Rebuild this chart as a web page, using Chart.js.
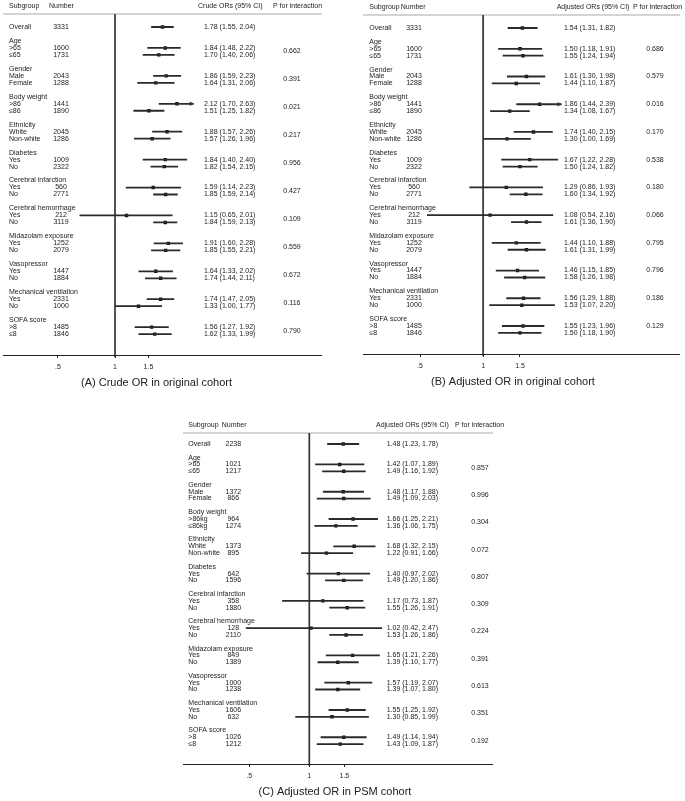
<!DOCTYPE html>
<html>
<head>
<meta charset="utf-8">
<script src="https://cdn.jsdelivr.net/npm/chart.js@4.4.1/dist/chart.umd.min.js"></script>
<style>
body { margin: 0; background: #fff; }
#wrap { position: relative; width: 685px; height: 801px; }
canvas { position: absolute; }
</style>
</head>
<body>
<div id="wrap">
  <canvas id="crude" width="340" height="400" style="left:0;top:0"></canvas>
  <canvas id="adj" width="345" height="400" style="left:340px;top:0"></canvas>
  <canvas id="psm" width="370" height="401" style="left:160px;top:400px"></canvas>
</div>
<script>
// subgroups
const groups = ['Age', 'Gender', 'Body weight', 'Ethnicity', 'Diabetes', 'Cerebral infarction',
  'Cerebral hemorrhage', 'Midazolam exposure', 'Vasopressor', 'Mechanical ventilation', 'SOFA score']
const levelsOrig = [['>65', '≤65'], ['Male', 'Female'], ['>86', '≤86'], ['White', 'Non-white'],
  ['Yes', 'No'], ['Yes', 'No'], ['Yes', 'No'], ['Yes', 'No'], ['Yes', 'No'], ['Yes', 'No'], ['>8', '≤8']]
const levelsPsm = [['>65', '≤65'], ['Male', 'Female'], ['>86kg', '≤86kg'], ['White', 'Non-white'],
  ['Yes', 'No'], ['Yes', 'No'], ['Yes', 'No'], ['Yes', 'No'], ['Yes', 'No'], ['Yes', 'No'], ['>8', '≤8']]

// rows: overall first, then two levels per subgroup
const nOrig = [3331, 1600, 1731, 2043, 1288, 1441, 1890, 2045, 1286, 1009, 2322, 560, 2771, 212, 3119, 1252, 2079, 1447, 1884, 2331, 1000, 1485, 1846]
const nPsm = [2238, 1021, 1217, 1372, 866, 964, 1274, 1373, 895, 642, 1596, 358, 1880, 128, 2110, 849, 1389, 1000, 1238, 1606, 632, 1026, 1212]

const crudeOr = [1.78, 1.84, 1.70, 1.86, 1.64, 2.12, 1.51, 1.88, 1.57, 1.84, 1.82, 1.59, 1.85, 1.15, 1.84, 1.91, 1.85, 1.64, 1.74, 1.74, 1.33, 1.56, 1.62]
const crudeLo = [1.55, 1.48, 1.40, 1.59, 1.31, 1.70, 1.25, 1.57, 1.26, 1.40, 1.54, 1.14, 1.59, 0.65, 1.59, 1.60, 1.55, 1.33, 1.44, 1.47, 1.00, 1.27, 1.33]
const crudeHi = [2.04, 2.22, 2.06, 2.23, 2.06, 2.63, 1.82, 2.26, 1.96, 2.40, 2.15, 2.23, 2.14, 2.01, 2.13, 2.28, 2.21, 2.02, 2.11, 2.05, 1.77, 1.92, 1.99]
const crudeP = [0.662, 0.391, 0.021, 0.217, 0.956, 0.427, 0.109, 0.559, 0.672, 0.116, 0.790]

const adjOr = [1.54, 1.50, 1.55, 1.61, 1.44, 1.86, 1.34, 1.74, 1.30, 1.67, 1.50, 1.29, 1.60, 1.08, 1.61, 1.44, 1.61, 1.46, 1.58, 1.56, 1.53, 1.55, 1.50]
const adjLo = [1.31, 1.18, 1.24, 1.30, 1.10, 1.44, 1.08, 1.40, 1.00, 1.22, 1.24, 0.86, 1.34, 0.54, 1.36, 1.10, 1.31, 1.15, 1.26, 1.29, 1.07, 1.23, 1.18]
const adjHi = [1.82, 1.91, 1.94, 1.98, 1.87, 2.39, 1.67, 2.15, 1.69, 2.28, 1.82, 1.93, 1.92, 2.16, 1.90, 1.88, 1.99, 1.85, 1.98, 1.88, 2.20, 1.96, 1.90]
const adjP = [0.686, 0.579, 0.016, 0.170, 0.538, 0.180, 0.066, 0.795, 0.796, 0.186, 0.129]

const psmOr = [1.48, 1.42, 1.49, 1.48, 1.49, 1.66, 1.36, 1.68, 1.22, 1.40, 1.49, 1.17, 1.55, 1.02, 1.53, 1.65, 1.39, 1.57, 1.39, 1.55, 1.30, 1.49, 1.43]
const psmLo = [1.23, 1.07, 1.16, 1.17, 1.09, 1.25, 1.06, 1.32, 0.91, 0.97, 1.20, 0.73, 1.26, 0.42, 1.26, 1.21, 1.10, 1.19, 1.07, 1.25, 0.85, 1.14, 1.09]
const psmHi = [1.78, 1.89, 1.92, 1.88, 2.03, 2.21, 1.75, 2.15, 1.66, 2.02, 1.86, 1.87, 1.91, 2.47, 1.86, 2.26, 1.77, 2.07, 1.80, 1.92, 1.99, 1.94, 1.87]
const psmP = [0.857, 0.996, 0.304, 0.072, 0.807, 0.309, 0.224, 0.391, 0.613, 0.351, 0.192]

const tickValues = [0.5, 1, 1.5]
const tickLabels = ['.5', '1', '1.5']

Chart.defaults.font.family = "'Liberation Sans', Arial, sans-serif"
const INK = '#222'

// text line of each row (overall = 0, subgroup header = 2 + 4g)
const rowLine = [0]
groups.forEach((g, i) => { rowLine.push(3 + 4 * i, 4 + 4 * i) })

const fmt = (o, l, h) => `${o.toFixed(2)} (${l.toFixed(2)}, ${h.toFixed(2)})`

function hline(ctx, x1, x2, y) {
    ctx.beginPath(); ctx.moveTo(x1, y); ctx.lineTo(x2, y); ctx.stroke()
}

function forestPlugin(p) {
    return {
        id: 'forest_' + p.id,
        beforeDatasetsDraw(chart) {
            const {ctx, chartArea, scales: {x}} = chart
            ctx.save()
            ctx.strokeStyle = '#d4d4d4'; ctx.lineWidth = 2
            hline(ctx, p.ruleL, p.ruleR, chartArea.top)
            // reference line at OR = 1
            const x1 = x.getPixelForValue(1)
            ctx.strokeStyle = '#333'; ctx.lineWidth = 1.7
            ctx.beginPath(); ctx.moveTo(x1, chartArea.top); ctx.lineTo(x1, chartArea.bottom + 2); ctx.stroke()
            ctx.restore()
        },
        afterDatasetsDraw(chart) {
            if (!p.arrows) return
            const {ctx, chartArea, scales: {y}} = chart
            ctx.save()
            ctx.fillStyle = '#333'
            // arrows where the CI leaves the plot range
            p.hi.forEach((h, i) => {
                const yy = y.getPixelForValue(rowLine[i])
                if (h > p.xMax) {
                    const xr = chartArea.right
                    ctx.beginPath(); ctx.moveTo(xr, yy); ctx.lineTo(xr - 4, yy - 2.2); ctx.lineTo(xr - 4, yy + 2.2); ctx.fill()
                }
            })
            ctx.restore()
        },
        afterDraw(chart) {
            const {ctx, chartArea, scales: {y}} = chart
            ctx.save()
            // axis line across the whole panel
            ctx.strokeStyle = INK; ctx.lineWidth = 1
            hline(ctx, p.ruleL, p.ruleR, chartArea.bottom + 0.5)

            ctx.fillStyle = INK
            ctx.textBaseline = 'middle'
            ctx.font = "7px 'Liberation Sans', Arial, sans-serif"
            const hy = chartArea.top - 8
            ctx.textAlign = 'left'
            ctx.fillText('Subgroup', p.colLabel, hy)
            ctx.fillText('Number', p.colNumHead, hy)
            ctx.fillText(p.orHead, p.colOrHead, hy)
            ctx.fillText('P for interaction', p.colPHead, hy)

            const labels = ['Overall']
            p.levels.forEach(l => labels.push(l[0], l[1]))
            labels.forEach((lab, i) => {
                const yy = y.getPixelForValue(rowLine[i])
                ctx.textAlign = 'left'
                ctx.fillText(lab, p.colLabel, yy)
                ctx.fillText(fmt(p.or[i], p.lo[i], p.hi[i]), p.colOr, yy)
                ctx.textAlign = 'center'
                ctx.fillText(String(p.n[i]), p.colNum, yy)
            })
            groups.forEach((g, i) => {
                ctx.textAlign = 'left'
                ctx.fillText(g, p.colLabel, y.getPixelForValue(2 + 4 * i))
                const line = p.pMid ? 3.5 + 4 * i : 3 + 4 * i
                ctx.textAlign = 'center'
                ctx.fillText(p.p[i].toFixed(3), p.colP, y.getPixelForValue(line))
            })

            ctx.font = "11px 'Liberation Sans', Arial, sans-serif"
            ctx.textAlign = 'center'
            ctx.fillText(p.title, p.titleX, chartArea.bottom + 28)
            ctx.restore()
        }
    }
}

function drawPanel(p) {
    const canvas = document.getElementById(p.id)
    const left = p.refX + p.pxPerLn * Math.log(p.xMin)
    const right = p.refX + p.pxPerLn * Math.log(p.xMax)
    const yMin = -(p.row0 - p.top) / p.gap
    const yMax = (p.bottom - p.row0) / p.gap

    const ciSets = p.or.map((o, i) => ({
        data: [{x: p.lo[i], y: rowLine[i]}, {x: p.hi[i], y: rowLine[i]}],
        showLine: true,
        borderColor: '#2a2a2a',
        borderWidth: 1.8,
        pointRadius: 0,
        clip: 0
    }))
    const pointSet = {
        data: p.or.map((o, i) => ({x: o, y: rowLine[i]})),
        pointStyle: 'rect',
        pointRadius: 2.4,
        backgroundColor: '#111',
        borderWidth: 0
    }

    new Chart(canvas.getContext('2d'), {
        type: 'scatter',
        data: {datasets: [...ciSets, pointSet]},
        options: {
            responsive: false,
            animation: false,
            events: [],
            layout: {padding: {left: left, right: canvas.width - right, top: p.top, bottom: p.padBottom}},
            plugins: {legend: {display: false}, tooltip: {enabled: false}},
            scales: {
                x: {
                    type: 'logarithmic',
                    min: p.xMin,
                    max: p.xMax,
                    bounds: 'data',
                    afterBuildTicks: s => { s.ticks = tickValues.map(v => ({value: v})) },
                    ticks: {
                        callback: v => tickLabels[tickValues.indexOf(v)],
                        font: {size: 7},
                        color: INK,
                        padding: 5,
                        maxRotation: 0,
                        autoSkip: false
                    },
                    grid: {drawOnChartArea: false, drawTicks: true, tickLength: 3, color: INK},
                    border: {display: false}
                },
                y: {type: 'linear', reverse: true, min: yMin, max: yMax, display: false}
            }
        },
        plugins: [forestPlugin(p)]
    })
}

document.addEventListener('DOMContentLoaded', () => {
    drawPanel({
        id: 'crude', title: '(A) Crude OR in original cohort', orHead: 'Crude ORs (95% CI)',
        levels: levelsOrig, n: nOrig, or: crudeOr, lo: crudeLo, hi: crudeHi, p: crudeP, pMid: true, arrows: true,
        refX: 115, pxPerLn: 82.4, xMin: 0.45, xMax: 2.6,
        top: 14, bottom: 355, row0: 27, gap: 6.98, padBottom: 23.6,
        ruleL: 3, ruleR: 322, colLabel: 9, colNumHead: 49, colNum: 61, colOr: 204, colOrHead: 198,
        colP: 292, colPHead: 273, titleX: 156.5
    })
    drawPanel({
        id: 'adj', title: '(B) Adjusted OR in original cohort', orHead: 'Adjusted ORs (95% CI)',
        levels: levelsOrig, n: nOrig, or: adjOr, lo: adjLo, hi: adjHi, p: adjP, pMid: false, arrows: true,
        refX: 143.1, pxPerLn: 91, xMin: 0.45, xMax: 2.37,
        top: 15, bottom: 354, row0: 28, gap: 6.93, padBottom: 24.6,
        ruleL: 23, ruleR: 340, colLabel: 29.3, colNumHead: 60.7, colNum: 74, colOr: 224, colOrHead: 216.7,
        colP: 315, colPHead: 293, titleX: 173
    })
    drawPanel({
        id: 'psm', title: '(C) Adjusted OR in PSM cohort', orHead: 'Adjusted ORs (95% CI)',
        levels: levelsPsm, n: nPsm, or: psmOr, lo: psmLo, hi: psmHi, p: psmP, pMid: true, arrows: false,
        refX: 149.3, pxPerLn: 86.5, xMin: 0.48, xMax: 2.32,
        top: 33, bottom: 364, row0: 44, gap: 6.82, padBottom: 15.6,
        ruleL: 23, ruleR: 333, colLabel: 28.3, colNumHead: 61.7, colNum: 73.3, colOr: 226.7, colOrHead: 216,
        colP: 320, colPHead: 295, titleX: 175
    })
})
</script>
</body>
</html>
